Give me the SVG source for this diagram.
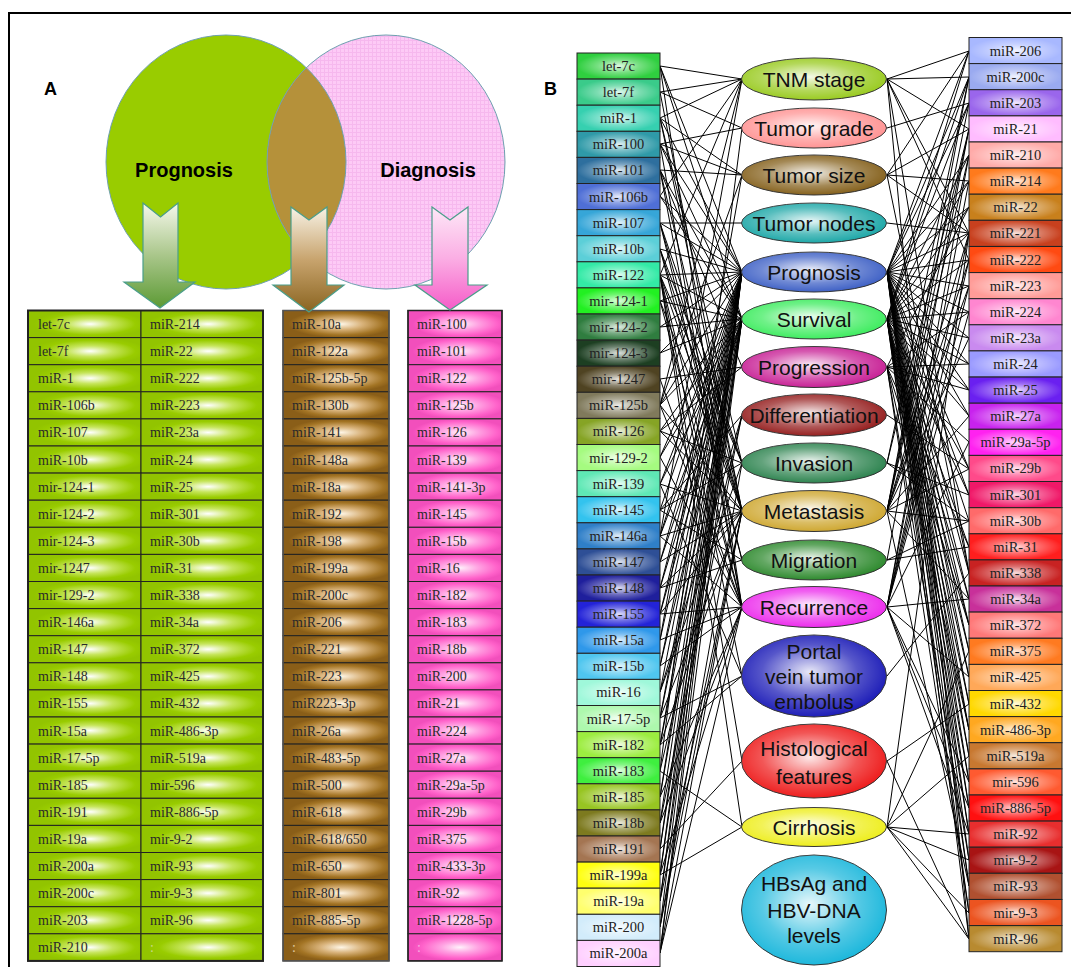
<svg xmlns="http://www.w3.org/2000/svg" width="1071" height="967" viewBox="0 0 1071 967">
<defs>
<style>
.t{font-family:"Liberation Serif","Times New Roman",serif;font-size:14px;fill:#2a2a2a}
.b{font-family:"Liberation Serif","Times New Roman",serif;font-size:14.5px;fill:#222;text-anchor:middle}
.o{font-family:"Liberation Sans",Arial,sans-serif;font-size:21px;fill:#111;text-anchor:middle}
.lab{font-family:"Liberation Sans",Arial,sans-serif;font-size:18px;font-weight:bold;fill:#000}
.vt{font-family:"Liberation Sans",Arial,sans-serif;font-size:20px;font-weight:bold;fill:#000;text-anchor:middle}
.c{stroke:#222;stroke-width:1}
.sh{fill:url(#shine);stroke:none}
.ov{stroke:#333;stroke-width:1}
.osh{fill:url(#oshine);stroke:none}
</style>
<radialGradient id="shine" cx=".5" cy=".5" r=".5"><stop offset="0" stop-color="#fff" stop-opacity=".85"/><stop offset=".5" stop-color="#fff" stop-opacity=".35"/><stop offset="1" stop-color="#fff" stop-opacity="0"/></radialGradient>
<radialGradient id="oshine" cx=".47" cy=".45" r=".55"><stop offset="0" stop-color="#fff" stop-opacity=".9"/><stop offset=".6" stop-color="#fff" stop-opacity=".25"/><stop offset="1" stop-color="#fff" stop-opacity="0"/></radialGradient>
<radialGradient id="gA" cx=".55" cy=".5" r=".5"><stop offset="0" stop-color="#ffffff"/><stop offset=".4" stop-color="#c6e55c"/><stop offset=".8" stop-color="#99cc00"/><stop offset="1" stop-color="#92c400"/></radialGradient>
<radialGradient id="bA" cx=".55" cy=".5" r=".5"><stop offset="0" stop-color="#fff6e6"/><stop offset=".4" stop-color="#d8b27a"/><stop offset=".8" stop-color="#a37424"/><stop offset="1" stop-color="#8a5e18"/></radialGradient>
<radialGradient id="pA" cx=".55" cy=".5" r=".5"><stop offset="0" stop-color="#fff2fb"/><stop offset=".4" stop-color="#ffa2e2"/><stop offset=".8" stop-color="#ff62ca"/><stop offset="1" stop-color="#f24fbc"/></radialGradient>
<linearGradient id="arG" x1="0" y1="0" x2="0" y2="1"><stop offset="0" stop-color="#f6f8ec"/><stop offset=".5" stop-color="#a9c68a"/><stop offset="1" stop-color="#5c9a34"/></linearGradient>
<linearGradient id="arB" x1="0" y1="0" x2="0" y2="1"><stop offset="0" stop-color="#f8f3e6"/><stop offset=".5" stop-color="#c8a46e"/><stop offset="1" stop-color="#8a6420"/></linearGradient>
<linearGradient id="arP" x1="0" y1="0" x2="0" y2="1"><stop offset="0" stop-color="#fde8f7"/><stop offset=".5" stop-color="#fbaee4"/><stop offset="1" stop-color="#f55cc8"/></linearGradient>
<pattern id="grid" width="4" height="4" patternUnits="userSpaceOnUse"><rect width="4" height="4" fill="#fdcaf6"/><path d="M0 0.5H4M0.5 0V4" stroke="#f6b8ee" stroke-width="1"/></pattern>
<clipPath id="gclip"><ellipse cx="226" cy="162" rx="120" ry="127"/></clipPath>
</defs>
<rect x="9" y="13" width="1100" height="1000" fill="#fff" stroke="#000" stroke-width="2"/>

<g id="panelA-venn">
<text class="lab" x="44" y="95">A</text>
<ellipse cx="226" cy="162" rx="120" ry="127" fill="#99cc00"/>
<ellipse cx="386" cy="162" rx="119" ry="127" fill="url(#grid)"/>
<ellipse cx="386" cy="162" rx="119" ry="127" fill="#b5913a" clip-path="url(#gclip)"/>
<ellipse cx="226" cy="162" rx="120" ry="127" fill="none" stroke="#6fa0b0" stroke-width="1"/>
<ellipse cx="386" cy="162" rx="119" ry="127" fill="none" stroke="#6fa0b0" stroke-width="1"/>
<text class="vt" x="184" y="177">Prognosis</text>
<text class="vt" x="428" y="177">Diagnosis</text>
</g>

<g id="tableA-prognosis" class="c">
<g fill="url(#gA)">
<rect x="28" y="310.5" width="113" height="27.1"/><rect x="141" y="310.5" width="122" height="27.1"/>
<rect x="28" y="337.6" width="113" height="27.1"/><rect x="141" y="337.6" width="122" height="27.1"/>
<rect x="28" y="364.7" width="113" height="27.1"/><rect x="141" y="364.7" width="122" height="27.1"/>
<rect x="28" y="391.8" width="113" height="27.1"/><rect x="141" y="391.8" width="122" height="27.1"/>
<rect x="28" y="418.9" width="113" height="27.1"/><rect x="141" y="418.9" width="122" height="27.1"/>
<rect x="28" y="446" width="113" height="27.1"/><rect x="141" y="446" width="122" height="27.1"/>
<rect x="28" y="473.1" width="113" height="27.1"/><rect x="141" y="473.1" width="122" height="27.1"/>
<rect x="28" y="500.2" width="113" height="27.1"/><rect x="141" y="500.2" width="122" height="27.1"/>
<rect x="28" y="527.3" width="113" height="27.1"/><rect x="141" y="527.3" width="122" height="27.1"/>
<rect x="28" y="554.4" width="113" height="27.1"/><rect x="141" y="554.4" width="122" height="27.1"/>
<rect x="28" y="581.5" width="113" height="27.1"/><rect x="141" y="581.5" width="122" height="27.1"/>
<rect x="28" y="608.6" width="113" height="27.1"/><rect x="141" y="608.6" width="122" height="27.1"/>
<rect x="28" y="635.7" width="113" height="27.1"/><rect x="141" y="635.7" width="122" height="27.1"/>
<rect x="28" y="662.8" width="113" height="27.1"/><rect x="141" y="662.8" width="122" height="27.1"/>
<rect x="28" y="689.9" width="113" height="27.1"/><rect x="141" y="689.9" width="122" height="27.1"/>
<rect x="28" y="717" width="113" height="27.1"/><rect x="141" y="717" width="122" height="27.1"/>
<rect x="28" y="744.1" width="113" height="27.1"/><rect x="141" y="744.1" width="122" height="27.1"/>
<rect x="28" y="771.2" width="113" height="27.1"/><rect x="141" y="771.2" width="122" height="27.1"/>
<rect x="28" y="798.3" width="113" height="27.1"/><rect x="141" y="798.3" width="122" height="27.1"/>
<rect x="28" y="825.4" width="113" height="27.1"/><rect x="141" y="825.4" width="122" height="27.1"/>
<rect x="28" y="852.5" width="113" height="27.1"/><rect x="141" y="852.5" width="122" height="27.1"/>
<rect x="28" y="879.6" width="113" height="27.1"/><rect x="141" y="879.6" width="122" height="27.1"/>
<rect x="28" y="906.7" width="113" height="27.1"/><rect x="141" y="906.7" width="122" height="27.1"/>
<rect x="28" y="933.8" width="113" height="27.1"/><rect x="141" y="933.8" width="122" height="27.1"/>
</g>
<rect x="28" y="310.5" width="235" height="650.4" fill="none" stroke-width="2"/>
<g class="t" stroke="none">
<text x="38" y="329">let-7c</text><text x="150" y="329">miR-214</text>
<text x="38" y="356.1">let-7f</text><text x="150" y="356.1">miR-22</text>
<text x="38" y="383.2">miR-1</text><text x="150" y="383.2">miR-222</text>
<text x="38" y="410.3">miR-106b</text><text x="150" y="410.3">miR-223</text>
<text x="38" y="437.4">miR-107</text><text x="150" y="437.4">miR-23a</text>
<text x="38" y="464.5">miR-10b</text><text x="150" y="464.5">miR-24</text>
<text x="38" y="491.6">mir-124-1</text><text x="150" y="491.6">miR-25</text>
<text x="38" y="518.7">mir-124-2</text><text x="150" y="518.7">miR-301</text>
<text x="38" y="545.8">mir-124-3</text><text x="150" y="545.8">miR-30b</text>
<text x="38" y="572.9">mir-1247</text><text x="150" y="572.9">miR-31</text>
<text x="38" y="600">mir-129-2</text><text x="150" y="600">miR-338</text>
<text x="38" y="627.1">miR-146a</text><text x="150" y="627.1">miR-34a</text>
<text x="38" y="654.2">miR-147</text><text x="150" y="654.2">miR-372</text>
<text x="38" y="681.3">miR-148</text><text x="150" y="681.3">miR-425</text>
<text x="38" y="708.4">miR-155</text><text x="150" y="708.4">miR-432</text>
<text x="38" y="735.5">miR-15a</text><text x="150" y="735.5">miR-486-3p</text>
<text x="38" y="762.6">miR-17-5p</text><text x="150" y="762.6">miR-519a</text>
<text x="38" y="789.7">miR-185</text><text x="150" y="789.7">mir-596</text>
<text x="38" y="816.8">miR-191</text><text x="150" y="816.8">miR-886-5p</text>
<text x="38" y="843.9">miR-19a</text><text x="150" y="843.9">mir-9-2</text>
<text x="38" y="871">miR-200a</text><text x="150" y="871">miR-93</text>
<text x="38" y="898.1">miR-200c</text><text x="150" y="898.1">mir-9-3</text>
<text x="38" y="925.2">miR-203</text><text x="150" y="925.2">miR-96</text>
<text x="38" y="952.3">miR-210</text><text x="150" y="952.3" fill="#c9d98a">:</text>
</g>
</g>

<g id="tableA-both" class="c">
<g fill="url(#bA)">
<rect x="283" y="310.5" width="106" height="27.1"/><rect x="283" y="337.6" width="106" height="27.1"/><rect x="283" y="364.7" width="106" height="27.1"/><rect x="283" y="391.8" width="106" height="27.1"/><rect x="283" y="418.9" width="106" height="27.1"/><rect x="283" y="446" width="106" height="27.1"/><rect x="283" y="473.1" width="106" height="27.1"/><rect x="283" y="500.2" width="106" height="27.1"/><rect x="283" y="527.3" width="106" height="27.1"/><rect x="283" y="554.4" width="106" height="27.1"/><rect x="283" y="581.5" width="106" height="27.1"/><rect x="283" y="608.6" width="106" height="27.1"/><rect x="283" y="635.7" width="106" height="27.1"/><rect x="283" y="662.8" width="106" height="27.1"/><rect x="283" y="689.9" width="106" height="27.1"/><rect x="283" y="717" width="106" height="27.1"/><rect x="283" y="744.1" width="106" height="27.1"/><rect x="283" y="771.2" width="106" height="27.1"/><rect x="283" y="798.3" width="106" height="27.1"/><rect x="283" y="825.4" width="106" height="27.1"/><rect x="283" y="852.5" width="106" height="27.1"/><rect x="283" y="879.6" width="106" height="27.1"/><rect x="283" y="906.7" width="106" height="27.1"/><rect x="283" y="933.8" width="106" height="27.1"/>
</g>
<rect x="283" y="310.5" width="106" height="650.4" fill="none" stroke="#555" stroke-width="1.5"/>
<g class="t" stroke="none">
<text x="292" y="329">miR-10a</text><text x="292" y="356.1">miR-122a</text><text x="292" y="383.2">miR-125b-5p</text><text x="292" y="410.3">miR-130b</text><text x="292" y="437.4">miR-141</text><text x="292" y="464.5">miR-148a</text><text x="292" y="491.6">miR-18a</text><text x="292" y="518.7">miR-192</text><text x="292" y="545.8">miR-198</text><text x="292" y="572.9">miR-199a</text><text x="292" y="600">miR-200c</text><text x="292" y="627.1">miR-206</text><text x="292" y="654.2">miR-221</text><text x="292" y="681.3">miR-223</text><text x="292" y="708.4">miR223-3p</text><text x="292" y="735.5">miR-26a</text><text x="292" y="762.6">miR-483-5p</text><text x="292" y="789.7">miR-500</text><text x="292" y="816.8">miR-618</text><text x="292" y="843.9">miR-618/650</text><text x="292" y="871">miR-650</text><text x="292" y="898.1">miR-801</text><text x="292" y="925.2">miR-885-5p</text><text x="292" y="952.3" fill="#e0c9a0">:</text>
</g>
</g>

<g id="tableA-diagnosis" class="c">
<g fill="url(#pA)">
<rect x="408" y="310.5" width="94" height="27.1"/><rect x="408" y="337.6" width="94" height="27.1"/><rect x="408" y="364.7" width="94" height="27.1"/><rect x="408" y="391.8" width="94" height="27.1"/><rect x="408" y="418.9" width="94" height="27.1"/><rect x="408" y="446" width="94" height="27.1"/><rect x="408" y="473.1" width="94" height="27.1"/><rect x="408" y="500.2" width="94" height="27.1"/><rect x="408" y="527.3" width="94" height="27.1"/><rect x="408" y="554.4" width="94" height="27.1"/><rect x="408" y="581.5" width="94" height="27.1"/><rect x="408" y="608.6" width="94" height="27.1"/><rect x="408" y="635.7" width="94" height="27.1"/><rect x="408" y="662.8" width="94" height="27.1"/><rect x="408" y="689.9" width="94" height="27.1"/><rect x="408" y="717" width="94" height="27.1"/><rect x="408" y="744.1" width="94" height="27.1"/><rect x="408" y="771.2" width="94" height="27.1"/><rect x="408" y="798.3" width="94" height="27.1"/><rect x="408" y="825.4" width="94" height="27.1"/><rect x="408" y="852.5" width="94" height="27.1"/><rect x="408" y="879.6" width="94" height="27.1"/><rect x="408" y="906.7" width="94" height="27.1"/><rect x="408" y="933.8" width="94" height="27.1"/>
</g>
<rect x="408" y="310.5" width="94" height="650.4" fill="none" stroke-width="1.5"/>
<g class="t" stroke="none">
<text x="417" y="329">miR-100</text><text x="417" y="356.1">miR-101</text><text x="417" y="383.2">miR-122</text><text x="417" y="410.3">miR-125b</text><text x="417" y="437.4">miR-126</text><text x="417" y="464.5">miR-139</text><text x="417" y="491.6">miR-141-3p</text><text x="417" y="518.7">miR-145</text><text x="417" y="545.8">miR-15b</text><text x="417" y="572.9">miR-16</text><text x="417" y="600">miR-182</text><text x="417" y="627.1">miR-183</text><text x="417" y="654.2">miR-18b</text><text x="417" y="681.3">miR-200</text><text x="417" y="708.4">miR-21</text><text x="417" y="735.5">miR-224</text><text x="417" y="762.6">miR-27a</text><text x="417" y="789.7">miR-29a-5p</text><text x="417" y="816.8">miR-29b</text><text x="417" y="843.9">miR-375</text><text x="417" y="871">miR-433-3p</text><text x="417" y="898.1">miR-92</text><text x="417" y="925.2">miR-1228-5p</text><text x="417" y="952.3" fill="#f5b0e0">:</text>
</g>
</g>

<g id="arrow-prognosis"><path d="M143 203L160.5 217L178 203V282H195L160 308L124 282H143Z" fill="url(#arG)" stroke="#4a9e8a" stroke-width="1.2"/></g>
<g id="arrow-both"><path d="M291 207L309 220L327 207V285H344L309 312L273 285H291Z" fill="url(#arB)" stroke="#4a9e8a" stroke-width="1.2"/></g>
<g id="arrow-diagnosis"><path d="M432 207L450 220L468 207V285H487L450 310L415 285H432Z" fill="url(#arP)" stroke="#4a9e8a" stroke-width="1.2"/></g>

<text class="lab" x="544" y="95">B</text>

<g id="connectors" fill="none" stroke="#000" stroke-width="1">
<path d="M660 66L742 79M660 66L742 272M660 66L742 319M660 66L742 607
M660 92L742 79M660 92L742 128M660 92L742 511
M660 118L742 175M660 118L742 272M660 118L742 463M660 118L742 79M660 118L742 511
M660 144L742 128M660 144L742 175M660 144L742 607M660 144L742 319M660 144L742 272
M660 170L742 175M660 170L742 367M660 170L742 511M660 170L742 319M660 170L742 607
M660 196L742 79M660 196L742 272M660 196L742 319
M660 223L742 223M660 223L742 463M660 223L742 560M660 223L742 272M660 223L742 511
M660 249L742 511M660 249L742 463M660 249L742 560M660 249L742 272
M660 275L742 79M660 275L742 272M660 275L742 319M660 275L742 511M660 275L742 607M660 275L742 761M660 275L742 827M660 275L742 676M660 275L742 463
M660 301L742 272M660 301L742 319M660 301L742 607M660 301L742 511
M660 327L742 272M660 327L742 319
M660 353L742 272M660 353L742 319
M660 379L742 367M660 379L742 607
M660 405L742 79M660 405L742 175M660 405L742 319M660 405L742 511M660 405L742 607M660 405L742 272
M660 431L742 367M660 431L742 463M660 431L742 511M660 431L742 319
M660 457L742 272M660 457L742 319M660 457L742 607
M660 484L742 511M660 484L742 272M660 484L742 676M660 484L742 319
M660 510L742 415M660 510L742 463M660 510L742 560M660 510L742 272
M660 536L742 272M660 536L742 607M660 536L742 511M660 536L742 79M660 536L742 319
M660 562L742 272M660 562L742 319M660 562L742 511
M660 588L742 511M660 588L742 272M660 588L742 560M660 588L742 319
M660 614L742 607M660 614L742 319M660 614L742 272M660 614L742 511
M660 640L742 175M660 640L742 607M660 640L742 272
M660 666L742 607M660 666L742 272M660 666L742 319
M660 692L742 415M660 692L742 463M660 692L742 272
M660 718L742 511M660 718L742 676M660 718L742 319M660 718L742 272
M660 745L742 511M660 745L742 272M660 745L742 676M660 745L742 319
M660 771L742 128M660 771L742 415M660 771L742 827
M660 797L742 319M660 797L742 607M660 797L742 272
M660 823L742 415M660 823L742 607M660 823L742 272
M660 849L742 761M660 849L742 319M660 849L742 272
M660 875L742 272M660 875L742 319M660 875L742 827M660 875L742 607
M660 901L742 319M660 901L742 272M660 901L742 511
M660 927L742 272M660 927L742 463M660 927L742 511
M660 953L742 272M660 953L742 511M660 953L742 319M660 953L742 607"/>
<path d="M969 51L887 79M969 51L887 175M969 51L887 319M969 51L887 272
M969 77L887 79M969 77L887 511M969 77L887 463M969 77L887 272M969 77L887 319
M969 103L887 128M969 103L887 272M969 103L887 319M969 103L887 511
M969 129L887 79M969 129L887 175M969 129L887 463M969 129L887 511M969 129L887 560
M969 155L887 272M969 155L887 319M969 155L887 511M969 155L887 607
M969 181L887 175M969 181L887 272M969 181L887 607M969 181L887 319
M969 207L887 272M969 207L887 367M969 207L887 319
M969 233L887 79M969 233L887 175M969 233L887 223M969 233L887 319M969 233L887 607M969 233L887 827M969 233L887 272M969 233L887 511
M969 260L887 79M969 260L887 272M969 260L887 319M969 260L887 511M969 260L887 607
M969 286L887 272M969 286L887 319M969 286L887 607M969 286L887 511
M969 312L887 272M969 312L887 367M969 312L887 319M969 312L887 607
M969 338L887 272M969 338L887 319M969 338L887 511
M969 364L887 367M969 364L887 319M969 364L887 272
M969 390L887 367M969 390L887 272M969 390L887 319
M969 416L887 272M969 416L887 319M969 416L887 511
M969 442L887 367M969 442L887 607
M969 469L887 272M969 469L887 511M969 469L887 415M969 469L887 319
M969 495L887 272M969 495L887 463M969 495L887 319
M969 521L887 511M969 521L887 463M969 521L887 560M969 521L887 272
M969 547L887 367M969 547L887 560M969 547L887 319
M969 573L887 79M969 573L887 175M969 573L887 676M969 573L887 272
M969 599L887 319M969 599L887 511M969 599L887 607M969 599L887 272
M969 625L887 367M969 625L887 272M969 625L887 319
M969 651L887 272M969 651L887 827M969 651L887 319
M969 677L887 607M969 677L887 319M969 677L887 272
M969 704L887 761M969 704L887 272M969 704L887 319
M969 730L887 319M969 730L887 367M969 730L887 272
M969 756L887 272M969 756L887 827M969 756L887 319
M969 782L887 319M969 782L887 607M969 782L887 272
M969 808L887 607M969 808L887 272M969 808L887 319
M969 834L887 272M969 834L887 827M969 834L887 319M969 834L887 607
M969 860L887 827M969 860L887 367M969 860L887 272
M969 886L887 511M969 886L887 319M969 886L887 272
M969 913L887 827M969 913L887 367M969 913L887 319
M969 939L887 827M969 939L887 79M969 939L887 761M969 939L887 272"/>
</g>

<g id="outcomes">
<g id="o-tnm"><ellipse cx="814" cy="79" rx="72.5" ry="21" fill="#9acb22" class="ov"/><ellipse cx="814" cy="79" rx="72.5" ry="21" class="osh"/><text class="o" x="814" y="86.5">TNM stage</text></g>
<g id="o-grade"><ellipse cx="814" cy="128" rx="72.5" ry="20" fill="#ff9494" class="ov"/><ellipse cx="814" cy="128" rx="72.5" ry="20" class="osh"/><text class="o" x="814" y="135.5">Tumor grade</text></g>
<g id="o-size"><ellipse cx="814" cy="175" rx="72.5" ry="20" fill="#86621e" class="ov"/><ellipse cx="814" cy="175" rx="72.5" ry="20" class="osh"/><text class="o" x="814" y="182.5">Tumor size</text></g>
<g id="o-nodes"><ellipse cx="814" cy="223" rx="72.5" ry="20" fill="#1fa8a8" class="ov"/><ellipse cx="814" cy="223" rx="72.5" ry="20" class="osh"/><text class="o" x="814" y="230.5">Tumor nodes</text></g>
<g id="o-prognosis"><ellipse cx="814" cy="272" rx="72.5" ry="20" fill="#4062c6" class="ov"/><ellipse cx="814" cy="272" rx="72.5" ry="20" class="osh"/><text class="o" x="814" y="279.5">Prognosis</text></g>
<g id="o-survival"><ellipse cx="814" cy="319" rx="72.5" ry="20" fill="#3fec60" class="ov"/><ellipse cx="814" cy="319" rx="72.5" ry="20" class="osh"/><text class="o" x="814" y="326.5">Survival</text></g>
<g id="o-progression"><ellipse cx="814" cy="367" rx="72.5" ry="20.5" fill="#c82296" class="ov"/><ellipse cx="814" cy="367" rx="72.5" ry="20.5" class="osh"/><text class="o" x="814" y="374.5">Progression</text></g>
<g id="o-differentiation"><ellipse cx="814" cy="415" rx="72.5" ry="21" fill="#962020" class="ov"/><ellipse cx="814" cy="415" rx="72.5" ry="21" class="osh"/><text class="o" x="814" y="422.5">Differentiation</text></g>
<g id="o-invasion"><ellipse cx="814" cy="463" rx="72.5" ry="20" fill="#2e8450" class="ov"/><ellipse cx="814" cy="463" rx="72.5" ry="20" class="osh"/><text class="o" x="814" y="470.5">Invasion</text></g>
<g id="o-metastasis"><ellipse cx="814" cy="511" rx="72.5" ry="20.5" fill="#cfa832" class="ov"/><ellipse cx="814" cy="511" rx="72.5" ry="20.5" class="osh"/><text class="o" x="814" y="518.5">Metastasis</text></g>
<g id="o-migration"><ellipse cx="814" cy="560" rx="72.5" ry="20" fill="#2e8a2e" class="ov"/><ellipse cx="814" cy="560" rx="72.5" ry="20" class="osh"/><text class="o" x="814" y="567.5">Migration</text></g>
<g id="o-recurrence"><ellipse cx="814" cy="607" rx="72.5" ry="20.5" fill="#ec2cec" class="ov"/><ellipse cx="814" cy="607" rx="72.5" ry="20.5" class="osh"/><text class="o" x="814" y="614.5">Recurrence</text></g>
<g id="o-portal"><ellipse cx="814" cy="676" rx="72.5" ry="41" fill="#1e1eb8" class="ov"/><ellipse cx="814" cy="676" rx="72.5" ry="41" class="osh"/><text class="o" x="814" y="659">Portal</text><text class="o" x="814" y="684">vein tumor</text><text class="o" x="814" y="709">embolus</text></g>
<g id="o-histological"><ellipse cx="814" cy="761" rx="72.5" ry="37" fill="#ee1e1e" class="ov"/><ellipse cx="814" cy="761" rx="72.5" ry="37" class="osh"/><text class="o" x="814" y="756">Histological</text><text class="o" x="814" y="783.5">features</text></g>
<g id="o-cirrhosis"><ellipse cx="814" cy="827" rx="72.5" ry="19.5" fill="#eeee1e" class="ov"/><ellipse cx="814" cy="827" rx="72.5" ry="19.5" class="osh"/><text class="o" x="814" y="834.5">Cirrhosis</text></g>
<g id="o-hbsag"><ellipse cx="814" cy="910" rx="72.5" ry="55" fill="#1eb8dc" class="ov"/><ellipse cx="814" cy="910" rx="72.5" ry="55" class="osh"/><text class="o" x="814" y="891">HBsAg and</text><text class="o" x="814" y="918">HBV-DNA</text><text class="o" x="814" y="943">levels</text></g>
</g>

<g id="left-mirnas">
<g id="L-let-7c"><rect x="577" y="53" width="83" height="26.1" fill="#2fcf3f" class="c"/><rect x="577" y="53" width="83" height="26.1" class="sh"/><text class="b" x="618.5" y="71">let-7c</text></g>
<g id="L-let-7f"><rect x="577" y="79.1" width="83" height="26.1" fill="#3acb8a" class="c"/><rect x="577" y="79.1" width="83" height="26.1" class="sh"/><text class="b" x="618.5" y="97.1">let-7f</text></g>
<g id="L-miR-1"><rect x="577" y="105.2" width="83" height="26.1" fill="#36d0b0" class="c"/><rect x="577" y="105.2" width="83" height="26.1" class="sh"/><text class="b" x="618.5" y="123.2">miR-1</text></g>
<g id="L-miR-100"><rect x="577" y="131.3" width="83" height="26.1" fill="#2f9aa8" class="c"/><rect x="577" y="131.3" width="83" height="26.1" class="sh"/><text class="b" x="618.5" y="149.3">miR-100</text></g>
<g id="L-miR-101"><rect x="577" y="157.4" width="83" height="26.1" fill="#2e6f9e" class="c"/><rect x="577" y="157.4" width="83" height="26.1" class="sh"/><text class="b" x="618.5" y="175.4">miR-101</text></g>
<g id="L-miR-106b"><rect x="577" y="183.5" width="83" height="26.1" fill="#4f6fd6" class="c"/><rect x="577" y="183.5" width="83" height="26.1" class="sh"/><text class="b" x="618.5" y="201.5">miR-106b</text></g>
<g id="L-miR-107"><rect x="577" y="209.6" width="83" height="26.1" fill="#36a6d8" class="c"/><rect x="577" y="209.6" width="83" height="26.1" class="sh"/><text class="b" x="618.5" y="227.6">miR-107</text></g>
<g id="L-miR-10b"><rect x="577" y="235.7" width="83" height="26.1" fill="#5ccfd8" class="c"/><rect x="577" y="235.7" width="83" height="26.1" class="sh"/><text class="b" x="618.5" y="253.7">miR-10b</text></g>
<g id="L-miR-122"><rect x="577" y="261.8" width="83" height="26.1" fill="#33eaa6" class="c"/><rect x="577" y="261.8" width="83" height="26.1" class="sh"/><text class="b" x="618.5" y="279.8">miR-122</text></g>
<g id="L-mir-124-1"><rect x="577" y="287.9" width="83" height="26.1" fill="#22f022" class="c"/><rect x="577" y="287.9" width="83" height="26.1" class="sh"/><text class="b" x="618.5" y="305.9">mir-124-1</text></g>
<g id="L-mir-124-2"><rect x="577" y="314" width="83" height="26.1" fill="#2f7d3f" class="c"/><rect x="577" y="314" width="83" height="26.1" class="sh"/><text class="b" x="618.5" y="332">mir-124-2</text></g>
<g id="L-mir-124-3"><rect x="577" y="340.1" width="83" height="26.1" fill="#1d3f22" class="c"/><rect x="577" y="340.1" width="83" height="26.1" class="sh"/><text class="b" x="618.5" y="358.1">mir-124-3</text></g>
<g id="L-mir-1247"><rect x="577" y="366.2" width="83" height="26.1" fill="#4f4322" class="c"/><rect x="577" y="366.2" width="83" height="26.1" class="sh"/><text class="b" x="618.5" y="384.2">mir-1247</text></g>
<g id="L-miR-125b"><rect x="577" y="392.3" width="83" height="26.1" fill="#807a5c" class="c"/><rect x="577" y="392.3" width="83" height="26.1" class="sh"/><text class="b" x="618.5" y="410.3">miR-125b</text></g>
<g id="L-miR-126"><rect x="577" y="418.4" width="83" height="26.1" fill="#86a425" class="c"/><rect x="577" y="418.4" width="83" height="26.1" class="sh"/><text class="b" x="618.5" y="436.4">miR-126</text></g>
<g id="L-mir-129-2"><rect x="577" y="444.5" width="83" height="26.1" fill="#a5fb80" class="c"/><rect x="577" y="444.5" width="83" height="26.1" class="sh"/><text class="b" x="618.5" y="462.5">mir-129-2</text></g>
<g id="L-miR-139"><rect x="577" y="470.6" width="83" height="26.1" fill="#5fe8b5" class="c"/><rect x="577" y="470.6" width="83" height="26.1" class="sh"/><text class="b" x="618.5" y="488.6">miR-139</text></g>
<g id="L-miR-145"><rect x="577" y="496.7" width="83" height="26.1" fill="#33c3ee" class="c"/><rect x="577" y="496.7" width="83" height="26.1" class="sh"/><text class="b" x="618.5" y="514.7">miR-145</text></g>
<g id="L-miR-146a"><rect x="577" y="522.8" width="83" height="26.1" fill="#2f7fc8" class="c"/><rect x="577" y="522.8" width="83" height="26.1" class="sh"/><text class="b" x="618.5" y="540.8">miR-146a</text></g>
<g id="L-miR-147"><rect x="577" y="548.9" width="83" height="26.1" fill="#2e4f96" class="c"/><rect x="577" y="548.9" width="83" height="26.1" class="sh"/><text class="b" x="618.5" y="566.9">miR-147</text></g>
<g id="L-miR-148"><rect x="577" y="575" width="83" height="26.1" fill="#1f1f9c" class="c"/><rect x="577" y="575" width="83" height="26.1" class="sh"/><text class="b" x="618.5" y="593">miR-148</text></g>
<g id="L-miR-155"><rect x="577" y="601.1" width="83" height="26.1" fill="#2323d8" class="c"/><rect x="577" y="601.1" width="83" height="26.1" class="sh"/><text class="b" x="618.5" y="619.1">miR-155</text></g>
<g id="L-miR-15a"><rect x="577" y="627.2" width="83" height="26.1" fill="#2f98ea" class="c"/><rect x="577" y="627.2" width="83" height="26.1" class="sh"/><text class="b" x="618.5" y="645.2">miR-15a</text></g>
<g id="L-miR-15b"><rect x="577" y="653.3" width="83" height="26.1" fill="#4fc6ef" class="c"/><rect x="577" y="653.3" width="83" height="26.1" class="sh"/><text class="b" x="618.5" y="671.3">miR-15b</text></g>
<g id="L-miR-16"><rect x="577" y="679.4" width="83" height="26.1" fill="#9ff8da" class="c"/><rect x="577" y="679.4" width="83" height="26.1" class="sh"/><text class="b" x="618.5" y="697.4">miR-16</text></g>
<g id="L-miR-17-5p"><rect x="577" y="705.5" width="83" height="26.1" fill="#adf8ad" class="c"/><rect x="577" y="705.5" width="83" height="26.1" class="sh"/><text class="b" x="618.5" y="723.5">miR-17-5p</text></g>
<g id="L-miR-182"><rect x="577" y="731.6" width="83" height="26.1" fill="#9ced40" class="c"/><rect x="577" y="731.6" width="83" height="26.1" class="sh"/><text class="b" x="618.5" y="749.6">miR-182</text></g>
<g id="L-miR-183"><rect x="577" y="757.7" width="83" height="26.1" fill="#3fef3f" class="c"/><rect x="577" y="757.7" width="83" height="26.1" class="sh"/><text class="b" x="618.5" y="775.7">miR-183</text></g>
<g id="L-miR-185"><rect x="577" y="783.8" width="83" height="26.1" fill="#97c522" class="c"/><rect x="577" y="783.8" width="83" height="26.1" class="sh"/><text class="b" x="618.5" y="801.8">miR-185</text></g>
<g id="L-miR-18b"><rect x="577" y="809.9" width="83" height="26.1" fill="#7d7a1f" class="c"/><rect x="577" y="809.9" width="83" height="26.1" class="sh"/><text class="b" x="618.5" y="827.9">miR-18b</text></g>
<g id="L-miR-191"><rect x="577" y="836" width="83" height="26.1" fill="#a47552" class="c"/><rect x="577" y="836" width="83" height="26.1" class="sh"/><text class="b" x="618.5" y="854">miR-191</text></g>
<g id="L-miR-199a"><rect x="577" y="862.1" width="83" height="26.1" fill="#ffff10" class="c"/><rect x="577" y="862.1" width="83" height="26.1" class="sh"/><text class="b" x="618.5" y="880.1">miR-199a</text></g>
<g id="L-miR-19a"><rect x="577" y="888.2" width="83" height="26.1" fill="#ffff6e" class="c"/><rect x="577" y="888.2" width="83" height="26.1" class="sh"/><text class="b" x="618.5" y="906.2">miR-19a</text></g>
<g id="L-miR-200"><rect x="577" y="914.3" width="83" height="26.1" fill="#d2ecfb" class="c"/><rect x="577" y="914.3" width="83" height="26.1" class="sh"/><text class="b" x="618.5" y="932.3">miR-200</text></g>
<g id="L-miR-200a"><rect x="577" y="940.4" width="83" height="26.1" fill="#ffd0ff" class="c"/><rect x="577" y="940.4" width="83" height="26.1" class="sh"/><text class="b" x="618.5" y="958.4">miR-200a</text></g>
</g>

<g id="right-mirnas">
<g id="R-miR-206"><rect x="969" y="37.5" width="93" height="26.1" fill="#a8b8ff" class="c"/><rect x="969" y="37.5" width="93" height="26.1" class="sh"/><text class="b" x="1015.5" y="55.5">miR-206</text></g>
<g id="R-miR-200c"><rect x="969" y="63.6" width="93" height="26.1" fill="#9aaaf0" class="c"/><rect x="969" y="63.6" width="93" height="26.1" class="sh"/><text class="b" x="1015.5" y="81.6">miR-200c</text></g>
<g id="R-miR-203"><rect x="969" y="89.7" width="93" height="26.1" fill="#9a66ec" class="c"/><rect x="969" y="89.7" width="93" height="26.1" class="sh"/><text class="b" x="1015.5" y="107.7">miR-203</text></g>
<g id="R-miR-21"><rect x="969" y="115.9" width="93" height="26.1" fill="#ffbcff" class="c"/><rect x="969" y="115.9" width="93" height="26.1" class="sh"/><text class="b" x="1015.5" y="133.9">miR-21</text></g>
<g id="R-miR-210"><rect x="969" y="142" width="93" height="26.1" fill="#ffaaa8" class="c"/><rect x="969" y="142" width="93" height="26.1" class="sh"/><text class="b" x="1015.5" y="160">miR-210</text></g>
<g id="R-miR-214"><rect x="969" y="168.1" width="93" height="26.1" fill="#ff7a1c" class="c"/><rect x="969" y="168.1" width="93" height="26.1" class="sh"/><text class="b" x="1015.5" y="186.1">miR-214</text></g>
<g id="R-miR-22"><rect x="969" y="194.2" width="93" height="26.1" fill="#c8801c" class="c"/><rect x="969" y="194.2" width="93" height="26.1" class="sh"/><text class="b" x="1015.5" y="212.2">miR-22</text></g>
<g id="R-miR-221"><rect x="969" y="220.3" width="93" height="26.1" fill="#c8401e" class="c"/><rect x="969" y="220.3" width="93" height="26.1" class="sh"/><text class="b" x="1015.5" y="238.3">miR-221</text></g>
<g id="R-miR-222"><rect x="969" y="246.5" width="93" height="26.1" fill="#ff4a12" class="c"/><rect x="969" y="246.5" width="93" height="26.1" class="sh"/><text class="b" x="1015.5" y="264.5">miR-222</text></g>
<g id="R-miR-223"><rect x="969" y="272.6" width="93" height="26.1" fill="#ff9c98" class="c"/><rect x="969" y="272.6" width="93" height="26.1" class="sh"/><text class="b" x="1015.5" y="290.6">miR-223</text></g>
<g id="R-miR-224"><rect x="969" y="298.7" width="93" height="26.1" fill="#ff86d0" class="c"/><rect x="969" y="298.7" width="93" height="26.1" class="sh"/><text class="b" x="1015.5" y="316.7">miR-224</text></g>
<g id="R-miR-23a"><rect x="969" y="324.8" width="93" height="26.1" fill="#c98aef" class="c"/><rect x="969" y="324.8" width="93" height="26.1" class="sh"/><text class="b" x="1015.5" y="342.8">miR-23a</text></g>
<g id="R-miR-24"><rect x="969" y="350.9" width="93" height="26.1" fill="#9a9aff" class="c"/><rect x="969" y="350.9" width="93" height="26.1" class="sh"/><text class="b" x="1015.5" y="368.9">miR-24</text></g>
<g id="R-miR-25"><rect x="969" y="377.1" width="93" height="26.1" fill="#6a20f0" class="c"/><rect x="969" y="377.1" width="93" height="26.1" class="sh"/><text class="b" x="1015.5" y="395.1">miR-25</text></g>
<g id="R-miR-27a"><rect x="969" y="403.2" width="93" height="26.1" fill="#c822ee" class="c"/><rect x="969" y="403.2" width="93" height="26.1" class="sh"/><text class="b" x="1015.5" y="421.2">miR-27a</text></g>
<g id="R-miR-29a-5p"><rect x="969" y="429.3" width="93" height="26.1" fill="#ff22f0" class="c"/><rect x="969" y="429.3" width="93" height="26.1" class="sh"/><text class="b" x="1015.5" y="447.3">miR-29a-5p</text></g>
<g id="R-miR-29b"><rect x="969" y="455.4" width="93" height="26.1" fill="#ff4a8a" class="c"/><rect x="969" y="455.4" width="93" height="26.1" class="sh"/><text class="b" x="1015.5" y="473.4">miR-29b</text></g>
<g id="R-miR-301"><rect x="969" y="481.5" width="93" height="26.1" fill="#f01868" class="c"/><rect x="969" y="481.5" width="93" height="26.1" class="sh"/><text class="b" x="1015.5" y="499.5">miR-301</text></g>
<g id="R-miR-30b"><rect x="969" y="507.7" width="93" height="26.1" fill="#ff6a6a" class="c"/><rect x="969" y="507.7" width="93" height="26.1" class="sh"/><text class="b" x="1015.5" y="525.7">miR-30b</text></g>
<g id="R-miR-31"><rect x="969" y="533.8" width="93" height="26.1" fill="#ff1e1e" class="c"/><rect x="969" y="533.8" width="93" height="26.1" class="sh"/><text class="b" x="1015.5" y="551.8">miR-31</text></g>
<g id="R-miR-338"><rect x="969" y="559.9" width="93" height="26.1" fill="#c82222" class="c"/><rect x="969" y="559.9" width="93" height="26.1" class="sh"/><text class="b" x="1015.5" y="577.9">miR-338</text></g>
<g id="R-miR-34a"><rect x="969" y="586" width="93" height="26.1" fill="#c8309a" class="c"/><rect x="969" y="586" width="93" height="26.1" class="sh"/><text class="b" x="1015.5" y="604">miR-34a</text></g>
<g id="R-miR-372"><rect x="969" y="612.1" width="93" height="26.1" fill="#ff7878" class="c"/><rect x="969" y="612.1" width="93" height="26.1" class="sh"/><text class="b" x="1015.5" y="630.1">miR-372</text></g>
<g id="R-miR-375"><rect x="969" y="638.3" width="93" height="26.1" fill="#ff7a20" class="c"/><rect x="969" y="638.3" width="93" height="26.1" class="sh"/><text class="b" x="1015.5" y="656.3">miR-375</text></g>
<g id="R-miR-425"><rect x="969" y="664.4" width="93" height="26.1" fill="#ffa858" class="c"/><rect x="969" y="664.4" width="93" height="26.1" class="sh"/><text class="b" x="1015.5" y="682.4">miR-425</text></g>
<g id="R-miR-432"><rect x="969" y="690.5" width="93" height="26.1" fill="#ffd800" class="c"/><rect x="969" y="690.5" width="93" height="26.1" class="sh"/><text class="b" x="1015.5" y="708.5">miR-432</text></g>
<g id="R-miR-486-3p"><rect x="969" y="716.6" width="93" height="26.1" fill="#ffa820" class="c"/><rect x="969" y="716.6" width="93" height="26.1" class="sh"/><text class="b" x="1015.5" y="734.6">miR-486-3p</text></g>
<g id="R-miR-519a"><rect x="969" y="742.7" width="93" height="26.1" fill="#c87830" class="c"/><rect x="969" y="742.7" width="93" height="26.1" class="sh"/><text class="b" x="1015.5" y="760.7">miR-519a</text></g>
<g id="R-mir-596"><rect x="969" y="768.9" width="93" height="26.1" fill="#ff5a30" class="c"/><rect x="969" y="768.9" width="93" height="26.1" class="sh"/><text class="b" x="1015.5" y="786.9">mir-596</text></g>
<g id="R-miR-886-5p"><rect x="969" y="795" width="93" height="26.1" fill="#ff1010" class="c"/><rect x="969" y="795" width="93" height="26.1" class="sh"/><text class="b" x="1015.5" y="813">miR-886-5p</text></g>
<g id="R-miR-92"><rect x="969" y="821.1" width="93" height="26.1" fill="#e82e2e" class="c"/><rect x="969" y="821.1" width="93" height="26.1" class="sh"/><text class="b" x="1015.5" y="839.1">miR-92</text></g>
<g id="R-mir-9-2"><rect x="969" y="847.2" width="93" height="26.1" fill="#a81414" class="c"/><rect x="969" y="847.2" width="93" height="26.1" class="sh"/><text class="b" x="1015.5" y="865.2">mir-9-2</text></g>
<g id="R-miR-93"><rect x="969" y="873.3" width="93" height="26.1" fill="#b05030" class="c"/><rect x="969" y="873.3" width="93" height="26.1" class="sh"/><text class="b" x="1015.5" y="891.3">miR-93</text></g>
<g id="R-mir-9-3"><rect x="969" y="899.5" width="93" height="26.1" fill="#ec5420" class="c"/><rect x="969" y="899.5" width="93" height="26.1" class="sh"/><text class="b" x="1015.5" y="917.5">mir-9-3</text></g>
<g id="R-miR-96"><rect x="969" y="925.6" width="93" height="26.1" fill="#b88a30" class="c"/><rect x="969" y="925.6" width="93" height="26.1" class="sh"/><text class="b" x="1015.5" y="943.6">miR-96</text></g>
</g>
</svg>
